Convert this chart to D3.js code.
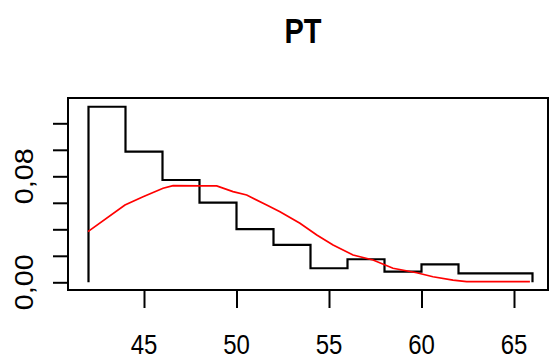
<!DOCTYPE html>
<html><head><meta charset="utf-8">
<script src="https://cdn.jsdelivr.net/npm/d3@7"></script>
<style>body{margin:0;background:#fff}svg{display:block}</style>
</head><body>
<svg id="c" width="550" height="360"></svg>
<script>
const title = "PT";
const binEdges = [42,44,46,48,50,52,54,56,58,60,62,64,66];
const binDensity = [0.1325,0.0986,0.0772,0.0601,0.0402,0.0282,0.0106,0.0174,0.0080,0.0136,0.0068,0.0068];
const densX = [41.97,43.97,44.95,46.03,46.57,48.03,48.93,49.81,50.55,51.63,52.35,53.43,54.34,55.22,56.3,57.38,58.46,59.74,60.62,61.7,62.44,65.86];
const densY = [0.0382,0.0583,0.0646,0.071,0.073,0.0727,0.0727,0.0684,0.0659,0.0583,0.0533,0.0445,0.0357,0.0282,0.0206,0.0168,0.0106,0.0072,0.0042,0.0017,0.0005,0.0005];
const xTicks = [45,50,55,60,65];
const xTickLabels = ["45","50","55","60","65"];
const yTicks = [0,0.02,0.04,0.06,0.08,0.10,0.12];
const yTickLabels = ["0,00","","","","0,08","",""];

const svg = d3.select("#c");
const x = d3.scaleLinear().domain([45,65]).range([144,514]);
const y = d3.scaleLinear().domain([0,0.12]).range([282.3,123.3]);
const box = {l:68,r:548,t:98,b:290};
const sy = 1.15;
const font = "Liberation Sans, Arial, sans-serif";

svg.append("rect").attr("x",box.l).attr("y",box.t).attr("width",box.r-box.l).attr("height",box.b-box.t)
  .attr("fill","none").attr("stroke","#000").attr("stroke-width",2);

const xa = svg.append("g").attr("transform",`translate(0,${box.b})`)
  .call(d3.axisBottom(x).tickValues(xTicks).tickSize(18).tickFormat(""));
xa.select(".domain").remove();
xa.selectAll("line").attr("stroke","#000").attr("stroke-width",2);
svg.selectAll(".xl").data(xTicks).enter().append("text")
  .attr("transform",d=>`translate(${x(d)},354) scale(1,${sy})`)
  .attr("text-anchor","middle").attr("font-family",font).attr("font-size",24)
  .attr("fill","#000").text((d,i)=>xTickLabels[i]);

const ya = svg.append("g").attr("transform",`translate(${box.l},0)`)
  .call(d3.axisLeft(y).tickValues(yTicks).tickSize(15).tickFormat(""));
ya.select(".domain").remove();
ya.selectAll("line").attr("stroke","#000").attr("stroke-width",2);
svg.selectAll(".yl").data(yTicks).enter().append("text")
  .attr("transform",d=>`translate(33,${y(d)}) scale(1,${sy}) rotate(-90)`)
  .attr("text-anchor","middle").attr("font-family",font).attr("font-size",25)
  .attr("fill","#000").text((d,i)=>yTickLabels[i]);

const pts = [[binEdges[0],0]];
binDensity.forEach((v,i)=>{pts.push([binEdges[i],v]);pts.push([binEdges[i+1],v]);});
pts.push([binEdges[binEdges.length-1],0]);
svg.append("path").attr("d",d3.line().x(d=>x(d[0])).y(d=>y(d[1]))(pts))
  .attr("fill","none").attr("stroke","#000").attr("stroke-width",2.2);

svg.append("path").attr("d",d3.line().x(d=>x(d)).y((d,i)=>y(densY[i]))(densX))
  .attr("fill","none").attr("stroke","#ff0000").attr("stroke-width",1.7);

svg.append("text").attr("transform",`translate(303,43) scale(1,1.2)`)
  .attr("text-anchor","middle").attr("font-family",font).attr("font-weight","bold")
  .attr("font-size",29).attr("fill","#000").text(title);
</script>
</body></html>
